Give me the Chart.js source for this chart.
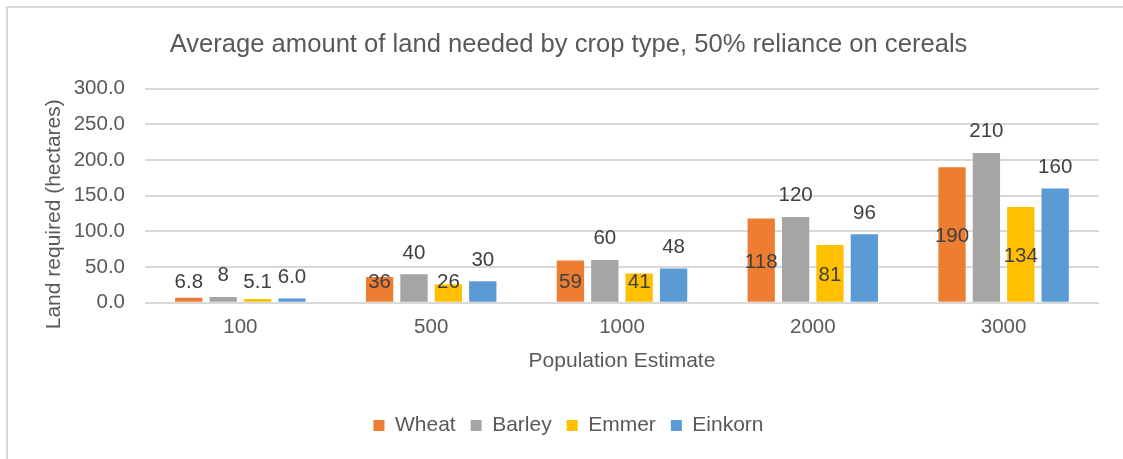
<!DOCTYPE html>
<html>
<head>
<meta charset="utf-8">
<script src="https://cdn.jsdelivr.net/npm/chart.js@4/dist/chart.umd.min.js"></script>
<style>
  html, body { margin: 0; padding: 0; background: #fff; overflow: hidden; }
  #frame { position: absolute; left: 6px; top: 6px; width: 1121px; height: 460px; border: 2px solid #d9d9d9; background: #fff; }
  canvas { display: block; }
</style>
</head>
<body>
<div id="frame"><canvas id="chart" width="1121" height="460"></canvas></div>
<script>
// Population sizes on the x axis
const populations = ['100', '500', '1000', '2000', '3000'];

// Hectares required per crop, kept as the printed label text
const wheat   = ['6.8', '36', '59', '118', '190'];
const barley  = ['8', '40', '60', '120', '210'];
const emmer   = ['5.1', '26', '41', '81', '134'];
const einkorn = ['6.0', '30', '48', '96', '160'];

// Value axis range
const yMin = 0;
const yMax = 300;
const yStep = 50;

const FONT = '"Liberation Sans", Arial, sans-serif';
const TEXT = '#595959';
const Y_TITLE = 'Land required (hectares)';

// Draws each bar's value: centred inside (kept clear of the axis) or just above the bar
const valueLabels = {
  id: 'valueLabels',
  afterDatasetsDraw(chart, args, opts) {
    const { ctx } = chart;
    const base = chart.scales.y.getPixelForValue(0);
    const size = opts.size;
    ctx.save();
    ctx.font = size + 'px ' + FONT;
    ctx.fillStyle = opts.color;
    ctx.textAlign = 'center';
    ctx.textBaseline = 'alphabetic';
    chart.data.datasets.forEach((ds, i) => {
      chart.getDatasetMeta(i).data.forEach((bar, j) => {
        const cy = ds.labelPlacement === 'center'
          ? Math.min((bar.y + base) / 2, base - opts.minInset)
          : bar.y - opts.outsideGap;
        ctx.fillText(ds.labelText[j], bar.x, cy + size * 0.358);
      });
    });
    ctx.restore();
  }
};

// Vertical axis title, centred on the plot including the category labels
const valueAxisTitle = {
  id: 'valueAxisTitle',
  afterDraw(chart, args, opts) {
    const { ctx, chartArea } = chart;
    const xs = chart.scales.x;
    const labelBottom = chartArea.bottom + xs.options.ticks.padding + xs.options.ticks.font.size * 1.2;
    const cy = (chartArea.top + labelBottom) / 2;
    ctx.save();
    ctx.translate(opts.x, cy);
    ctx.rotate(-Math.PI / 2);
    ctx.font = opts.size + 'px ' + FONT;
    ctx.fillStyle = TEXT;
    ctx.textAlign = 'center';
    ctx.textBaseline = 'middle';
    ctx.fillText(opts.text, 0, 0);
    ctx.restore();
  }
};

function series(name, values, color, placement) {
  return {
    label: name,
    data: values.map(Number),
    labelText: values,
    labelPlacement: placement,
    backgroundColor: color,
    borderWidth: 0,
    categoryPercentage: 0.721,
    barPercentage: 0.794
  };
}

new Chart(document.getElementById('chart'), {
  type: 'bar',
  data: {
    labels: populations,
    datasets: [
      series('Wheat', wheat, '#ED7D31', 'center'),
      series('Barley', barley, '#A5A5A5', 'outside'),
      series('Emmer', emmer, '#FFC000', 'center'),
      series('Einkorn', einkorn, '#5B9BD5', 'outside')
    ]
  },
  options: {
    responsive: false,
    animation: false,
    devicePixelRatio: 1,
    layout: { padding: { left: 0, right: 0, top: 0, bottom: 22 } },
    scales: {
      x: {
        grid: { display: false, drawTicks: false },
        border: { display: false },
        ticks: { color: TEXT, font: { family: FONT, size: 20.5 }, padding: 12.5 },
        title: {
          display: true, text: 'Population Estimate', color: TEXT,
          font: { family: FONT, size: 21 }, padding: { top: -4, bottom: 26.5 }
        }
      },
      y: {
        min: yMin, max: yMax,
        grid: { color: '#d9d9d9', lineWidth: 2, drawTicks: false },
        border: { display: false },
        ticks: {
          stepSize: yStep, color: TEXT, font: { family: FONT, size: 20.5 }, padding: 20,
          callback: v => Number(v).toFixed(1)
        },
        afterFit: s => { s.width = 137; }
      },
      // empty margin on the right of the plot
      spacer: {
        type: 'linear', position: 'right', display: true,
        grid: { display: false }, border: { display: false }, ticks: { display: false },
        afterFit: s => { s.width = 30; }
      }
    },
    plugins: {
      title: {
        display: true,
        text: 'Average amount of land needed by crop type, 50% reliance on cereals',
        color: TEXT,
        font: { family: FONT, size: 25.6, weight: 'normal' },
        padding: { top: 22, bottom: 28 }
      },
      legend: {
        position: 'bottom',
        labels: {
          boxWidth: 11, boxHeight: 11, padding: 15,
          color: TEXT, font: { family: FONT, size: 21 }
        }
      },
      tooltip: { enabled: false },
      valueLabels: { size: 20.5, color: '#404040', minInset: 22, outsideGap: 23 },
      valueAxisTitle: { text: Y_TITLE, x: 46, size: 21 }
    }
  },
  plugins: [valueLabels, valueAxisTitle]
});
</script>
</body>
</html>
